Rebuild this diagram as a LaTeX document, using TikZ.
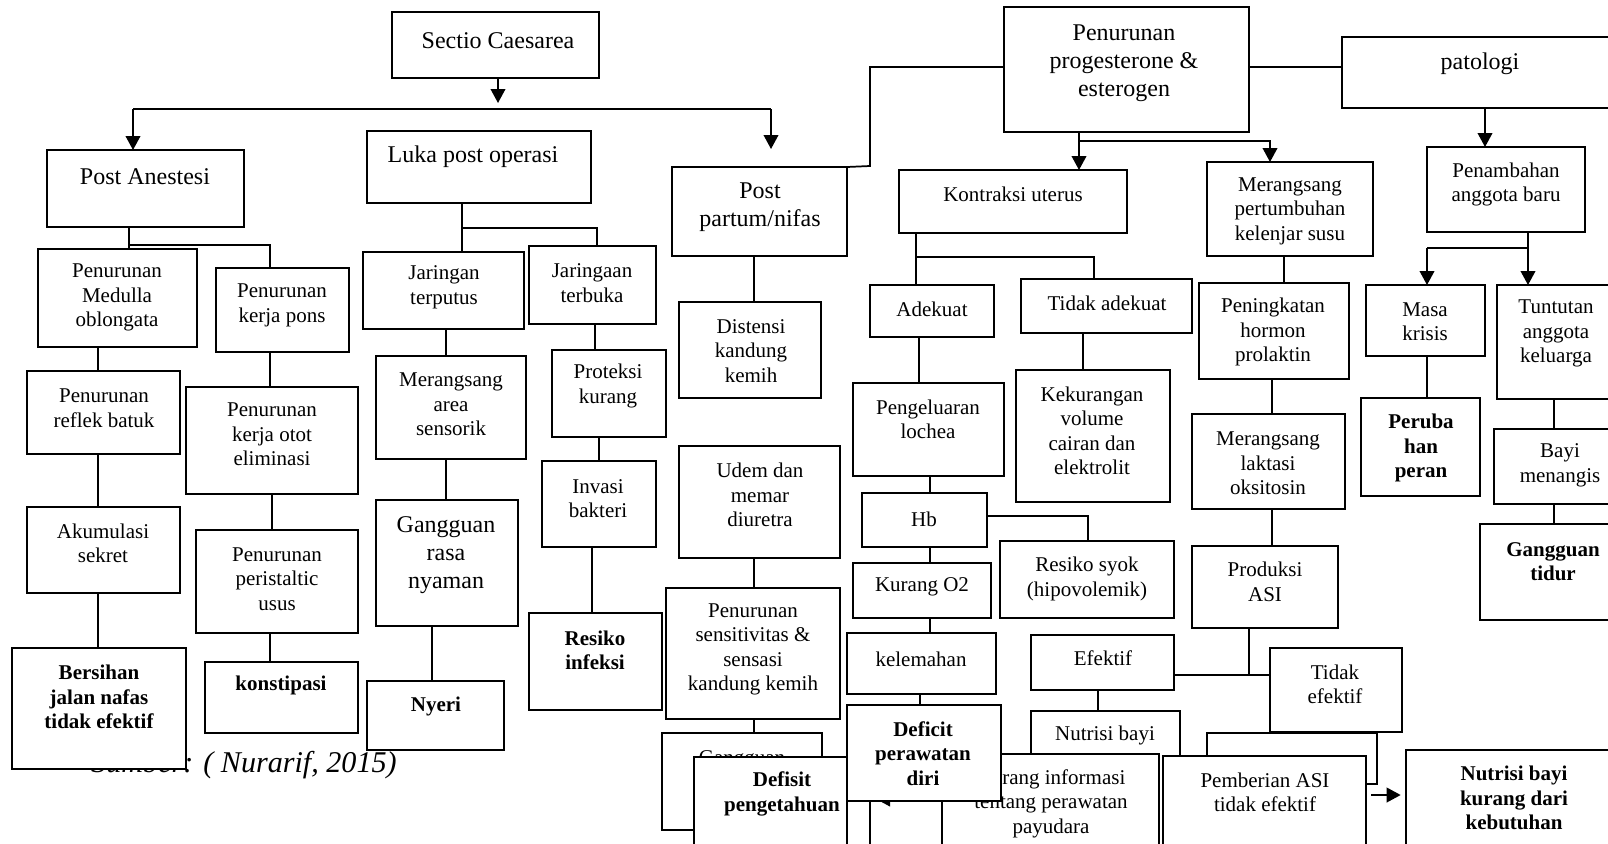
\documentclass[tikz,border=0pt]{standalone}
\usepackage{fontspec}
\setmainfont{Liberation Serif}
\usetikzlibrary{arrows.meta}
\pgfdeclarelayer{bg}
\pgfsetlayers{bg,main}
\newcommand\bx[5]{\node[bx,minimum width={(#4-#2)*0.75pt},minimum height={(#5-#3)*0.75pt}] (#1) at ({(#2+#4)/2},{(#3+#5)/2}) {};}
\tikzset{
 bx/.style={draw, line width=1.5pt, fill=white, inner sep=0pt, outer sep=0pt},
 t/.style={align=center, inner sep=0pt, font=\fontsize{15.75}{18.4}\selectfont},
 tb/.style={t, font=\fontsize{15.75}{18.4}\selectfont\bfseries},
 tbig/.style={t, font=\fontsize{18}{21}\selectfont},
 captxt/.style={inner sep=0pt, font=\fontsize{22.6}{27}\selectfont\itshape},
 ln/.style={line width=1.3pt},
 arr/.style={ln, -{Triangle[length=10.5pt,width=11pt]}},
}
\begin{document}
\begin{tikzpicture}[x=0.75pt,y=-0.75pt]
\useasboundingbox (0,0) rectangle (1608,843);
\clip (0,0) rectangle (1608,843);
% caption (partly hidden)
\node[captxt, anchor=base east] (src) at (397,772) {Sumber: ( Nurarif, 2015)};
% left column
\bx{sc}{392}{12}{599}{78} \node[tbig] (sc-t) at (498,41) {Sectio Caesarea};
\bx{pa}{47}{150}{244}{227} \node[tbig] (pa-t) at (145,177) {Post Anestesi};
\bx{med}{38}{249}{197}{347} \node[t] (med-t) at (117,297.5) {Penurunan\\Medulla\\oblongata};
\bx{pons}{216}{268}{349}{352} \node[t] (pons-t) at (282,305.5) {Penurunan\\kerja pons};
\bx{reflek}{27}{371}{180}{454} \node[t] (reflek-t) at (104,408) {Penurunan\\reflek batuk};
\bx{otot}{186}{387}{358}{494} \node[t] (otot-t) at (272,434.5) {Penurunan\\kerja otot\\eliminasi};
\bx{aku}{27}{507}{180}{593} \node[t] (aku-t) at (103,543.5) {Akumulasi\\sekret};
\bx{peri}{196}{530}{358}{633} \node[t] (peri-t) at (277,579) {Penurunan\\peristaltic\\usus};
\bx{bers}{12}{648}{186}{769} \node[tb] (bers-t) at (99,697) {Bersihan\\jalan nafas\\tidak efektif};
\bx{kons}{205}{662}{358}{733} \node[tb] (kons-t) at (281,685) {konstipasi};
% luka column
\bx{luka}{367}{131}{591}{203} \node[tbig] (luka-t) at (473,157) {Luka post operasi};
\bx{terp}{363}{252}{524}{329} \node[t] (terp-t) at (444,287.5) {Jaringan\\terputus};
\bx{terb}{529}{246}{656}{324} \node[t] (terb-t) at (592,283) {Jaringaan\\terbuka};
\bx{msens}{376}{356}{526}{459} \node[t] (msens-t) at (451,404.5) {Merangsang\\area\\sensorik};
\bx{prot}{552}{350}{666}{437} \node[t] (prot-t) at (608,386) {Proteksi\\kurang};
\bx{inv}{542}{461}{656}{547} \node[t] (inv-t) at (598,498.5) {Invasi\\bakteri};
\bx{grn}{376}{500}{518}{626} \node[tbig] (grn-t) at (446,555) {Gangguan\\rasa\\nyaman};
\bx{nyeri}{367}{681}{504}{750} \node[tb] (nyeri-t) at (436,706) {Nyeri};
\bx{rinf}{529}{613}{662}{710} \node[tb] (rinf-t) at (595,650.5) {Resiko\\infeksi};
% post partum column
\bx{pp}{672}{167}{847}{256} \node[tbig] (pp-t) at (760,207) {Post\\partum/nifas};
\bx{dist}{679}{302}{821}{398} \node[t] (dist-t) at (751,351) {Distensi\\kandung\\kemih};
\bx{udem}{679}{446}{840}{558} \node[t] (udem-t) at (760,495) {Udem dan\\memar\\diuretra};
\bx{sens}{666}{588}{840}{719} \node[t] (sens-t) at (753,649.5) {Penurunan\\sensitivitas \&\\sensasi\\kandung kemih};
\bx{gang}{662}{733}{822}{830} \node[t] (gang-t) at (742,760) {Gangguan};
\bx{defp}{694}{757}{847}{900} \node[tb] (defp-t) at (782,794) {Defisit\\pengetahuan};
% hormone part
\bx{prog}{1004}{7}{1249}{132} \node[tbig, font=\fontsize{18}{20.8}\selectfont] (prog-t) at (1124,63) {Penurunan\\progesterone \&\\esterogen};
\bx{pat}{1342}{37}{1640}{108} \node[tbig] (pat-t) at (1480,64) {patologi};
\bx{kon}{899}{170}{1127}{233} \node[t] (kon-t) at (1013,194) {Kontraksi uterus};
\bx{adek}{870}{285}{994}{337} \node[t] (adek-t) at (932,309) {Adekuat};
\bx{tadek}{1021}{279}{1192}{333} \node[t] (tadek-t) at (1107,303) {Tidak adekuat};
\bx{loch}{853}{383}{1004}{476} \node[t] (loch-t) at (928,419.5) {Pengeluaran\\lochea};
\bx{kek}{1016}{370}{1170}{502} \node[t] (kek-t) at (1092,431) {Kekurangan\\volume\\cairan dan\\elektrolit};
\bx{hb}{862}{493}{987}{547} \node[t] (hb-t) at (924,519) {Hb};
\bx{syok}{1000}{541}{1174}{618} \node[t] (syok-t) at (1087,579) {Resiko syok\\(hipovolemik)};
\bx{ko2}{853}{563}{991}{618} \node[t] (ko2-t) at (922,587) {Kurang O2};
\bx{kel}{847}{633}{996}{694} \node[t] (kel-t) at (921,659) {kelemahan};
\bx{mps}{1207}{162}{1373}{256} \node[t] (mps-t) at (1290,211) {Merangsang\\pertumbuhan\\kelenjar susu};
\bx{pk}{1199}{283}{1349}{379} \node[t] (pk-t) at (1273,332) {Peningkatan\\hormon\\prolaktin};
\bx{mlo}{1192}{414}{1345}{509} \node[t] (mlo-t) at (1268,463.5) {Merangsang\\laktasi\\oksitosin};
\bx{pasi}{1192}{546}{1338}{628} \node[t] (pasi-t) at (1265,582) {Produksi\\ASI};
\bx{efk}{1031}{635}{1174}{690} \node[t] (efk-t) at (1103,658) {Efektif};
\bx{tefk}{1270}{648}{1402}{732} \node[t] (tefk-t) at (1335,684.5) {Tidak\\efektif};
\bx{nb}{1031}{711}{1180}{900} \node[t] (nb-t) at (1105,735) {Nutrisi bayi};
\bx{peny}{1207}{733}{1377}{784}
\bx{kinf}{942}{754}{1159}{900} \node[t] (kinf-t) at (1051,803.5) {Kurang informasi\\tentang perawatan\\payudara};
\bx{defr}{847}{705}{1001}{801} \node[tb] (defr-t) at (923,753.5) {Deficit\\perawatan\\diri};
\bx{pem}{1163}{756}{1366}{900} \node[t] (pem-t) at (1265,792.5) {Pemberian ASI\\tidak efektif};
\bx{nbk}{1406}{750}{1640}{900} \node[tb] (nbk-t) at (1514,798) {Nutrisi bayi\\kurang dari\\kebutuhan};
% patologi part
\bx{pen}{1427}{147}{1585}{232} \node[t] (pen-t) at (1506,184.5) {Penambahan\\anggota baru};
\bx{masa}{1366}{285}{1485}{356} \node[t] (masa-t) at (1425,321.5) {Masa\\krisis};
\bx{tunt}{1497}{285}{1640}{399} \node[t] (tunt-t) at (1556,333.5) {Tuntutan\\anggota\\keluarga};
\bx{per}{1361}{398}{1480}{496} \node[tb] (per-t) at (1421,448) {Peruba\\han\\peran};
\bx{bayi}{1494}{429}{1640}{504} \node[t] (bayi-t) at (1560,465.5) {Bayi\\menangis};
\bx{gt}{1480}{524}{1640}{620} \node[tb] (gt-t) at (1553,561.5) {Gangguan\\tidur};
% coordinates
\coordinate (j0) at (498,103);
\coordinate (j1) at (133,109);
\coordinate (j2) at (771,109);
\coordinate (pptip) at (771,149);
\coordinate (ja) at (129,245);
\coordinate (jl) at (462,228);
\coordinate (jpp) at (870,166);
\coordinate (jp) at (1079,141);
\coordinate (jk) at (916,257);
\coordinate (je) at (1249,675);
\coordinate (jb) at (870,850);
\coordinate (atip) at (876,799);
\coordinate (jn) at (1427,248);
\coordinate (jn2) at (1528,248);
\begin{pgfonlayer}{bg}
\draw[arr] (sc.south -| 498,0) -- (j0);
\draw[ln] (j1) -- (j2);
\draw[arr] (j1) -- (pa.north -| j1);
\draw[arr] (j2) -- (pptip);
\draw[ln] (pa.south -| 129,0) -- (med.north -| 129,0);
\draw[ln] (ja) -| (pons.north -| 270,0);
\draw[ln] (med.south -| 98,0) -- (reflek.north -| 98,0);
\draw[ln] (pons.south -| 270,0) -- (otot.north -| 270,0);
\draw[ln] (reflek.south -| 98,0) -- (aku.north -| 98,0);
\draw[ln] (otot.south -| 272,0) -- (peri.north -| 272,0);
\draw[ln] (aku.south -| 98,0) -- (bers.north -| 98,0);
\draw[ln] (peri.south -| 270,0) -- (kons.north -| 270,0);
\draw[ln] (luka.south -| 462,0) -- (terp.north -| 462,0);
\draw[ln] (jl) -| (terb.north -| 597,0);
\draw[ln] (terp.south -| 446,0) -- (msens.north -| 446,0);
\draw[ln] (terb.south -| 595,0) -- (prot.north -| 595,0);
\draw[ln] (prot.south -| 599,0) -- (inv.north -| 599,0);
\draw[ln] (msens.south -| 446,0) -- (grn.north -| 446,0);
\draw[ln] (grn.south -| 432,0) -- (nyeri.north -| 432,0);
\draw[ln] (inv.south -| 592,0) -- (rinf.north -| 592,0);
\draw[ln] (pp.south -| 754,0) -- (dist.north -| 754,0);
\draw[ln] (udem.south -| 754,0) -- (sens.north -| 754,0);
\draw[ln] (sens.south -| 754,0) -- (gang.north -| 754,0);
\draw[ln] (prog.west |- 0,67) -| (jpp) -- (pp.north east);
\draw[ln] (prog.east |- 0,67) -- (pat.west |- 0,67);
\draw[arr] (prog.south -| 1079,0) -- (kon.north -| 1079,0);
\draw[arr] (jp) -| (mps.north -| 1270,0);
\draw[ln] (kon.south -| 916,0) -- (adek.north -| 916,0);
\draw[ln] (jk) -| (tadek.north -| 1094,0);
\draw[ln] (adek.south -| 919,0) -- (loch.north -| 919,0);
\draw[ln] (tadek.south -| 1083,0) -- (kek.north -| 1083,0);
\draw[ln] (loch.south -| 930,0) -- (hb.north -| 930,0);
\draw[ln] (hb.east |- 0,516) -| (syok.north -| 1088,0);
\draw[ln] (hb.south -| 930,0) -- (ko2.north -| 930,0);
\draw[ln] (ko2.south -| 930,0) -- (kel.north -| 930,0);
\draw[ln] (kel.south -| 920,0) -- (defr.north -| 920,0);
\draw[ln] (mps.south -| 1284,0) -- (pk.north -| 1284,0);
\draw[ln] (pk.south -| 1272,0) -- (mlo.north -| 1272,0);
\draw[ln] (mlo.south -| 1272,0) -- (pasi.north -| 1272,0);
\draw[ln] (pasi.south -| 1249,0) -- (je);
\draw[ln] (efk.east |- je) -- (tefk.west |- je);
\draw[ln] (efk.south -| 1098,0) -- (nb.north -| 1098,0);
\draw[ln] (kinf.east |- 0,807) -- (pem.west |- 0,807);
\draw[arr, shorten <=4pt, shorten >=4pt] (pem.east |- 0,795) -- (nbk.west |- 0,795);
\draw[ln] (defr.south -| 870,0) -- (jb);
\draw[arr] (kinf.west |- 0,799) -- (atip);
\draw[arr] (pat.south -| 1485,0) -- (pen.north -| 1485,0);
\draw[arr] (pen.south -| 1528,0) -- (tunt.north -| 1528,0);
\draw[ln] (jn) -- (jn2);
\draw[arr] (jn) -- (masa.north -| jn);
\draw[ln] (masa.south -| 1427,0) -- (per.north -| 1427,0);
\draw[ln] (tunt.south -| 1554,0) -- (bayi.north -| 1554,0);
\draw[ln] (bayi.south -| 1554,0) -- (gt.north -| 1554,0);
\end{pgfonlayer}
\end{tikzpicture}
\end{document}
